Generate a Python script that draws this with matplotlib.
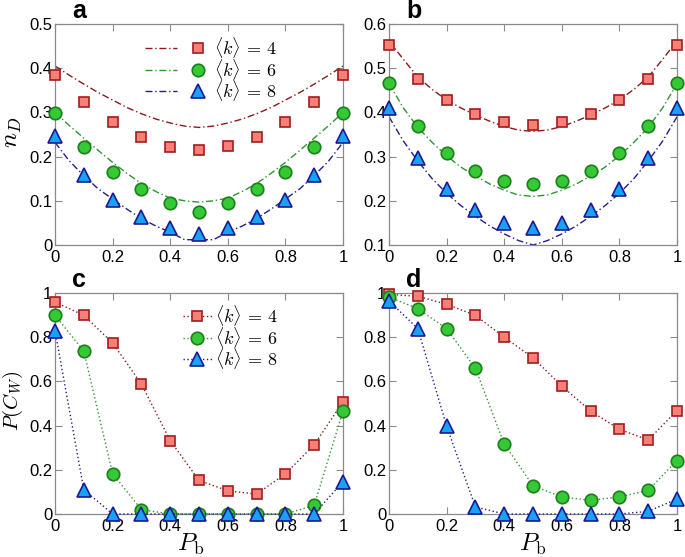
import matplotlib
matplotlib.use("Agg")
import matplotlib.pyplot as plt
from matplotlib.legend_handler import HandlerTuple

plt.rcParams['font.family'] = ['Liberation Sans', 'DejaVu Sans']
plt.rcParams['mathtext.fontset'] = 'cm'

# ---------------- data ----------------
pb = [0.0, 0.1, 0.2, 0.3, 0.4, 0.5, 0.6, 0.7, 0.8, 0.9, 1.0]
labels = [r'$\langle k\rangle\,=\,4$', r'$\langle k\rangle\,=\,6$', r'$\langle k\rangle\,=\,8$']

# panel a: simulation points
a_k4 = [0.385, 0.324, 0.279, 0.245, 0.222, 0.215, 0.224, 0.245, 0.279, 0.324, 0.385]
a_k6 = [0.298, 0.222, 0.166, 0.126, 0.094, 0.075, 0.094, 0.126, 0.166, 0.222, 0.298]
a_k8 = [0.247, 0.158, 0.102, 0.064, 0.039, 0.025, 0.039, 0.064, 0.102, 0.158, 0.247]

# panel a/b: theory curves (read at 0.05 steps)
pb_fine = [0.0, 0.05, 0.1, 0.15, 0.2, 0.25, 0.3, 0.35, 0.4, 0.45, 0.5,
           0.55, 0.6, 0.65, 0.7, 0.75, 0.8, 0.85, 0.9, 0.95, 1.0]
a_th4 = [0.405, 0.384, 0.364, 0.345, 0.328, 0.311, 0.297, 0.285, 0.276, 0.269, 0.266,
         0.269, 0.276, 0.285, 0.297, 0.311, 0.328, 0.345, 0.364, 0.384, 0.405]
a_th6 = [0.300, 0.270, 0.242, 0.214, 0.187, 0.162, 0.139, 0.121, 0.106, 0.100, 0.097,
         0.100, 0.106, 0.121, 0.139, 0.162, 0.187, 0.214, 0.242, 0.270, 0.300]
a_th8 = [0.232, 0.190, 0.157, 0.127, 0.104, 0.081, 0.060, 0.043, 0.029, 0.012, 0.012,
         0.012, 0.029, 0.043, 0.060, 0.081, 0.104, 0.127, 0.157, 0.190, 0.232]

# panel b
b_k4 = [0.552, 0.476, 0.428, 0.396, 0.378, 0.372, 0.378, 0.396, 0.428, 0.476, 0.552]
b_k6 = [0.467, 0.369, 0.309, 0.268, 0.245, 0.237, 0.245, 0.268, 0.309, 0.369, 0.467]
b_k8 = [0.409, 0.296, 0.226, 0.179, 0.149, 0.138, 0.150, 0.179, 0.226, 0.296, 0.409]
b_th4 = [0.562, 0.520, 0.480, 0.452, 0.428, 0.410, 0.394, 0.380, 0.368, 0.360, 0.357,
         0.360, 0.368, 0.380, 0.394, 0.410, 0.428, 0.452, 0.480, 0.520, 0.562]
b_th6 = [0.465, 0.410, 0.366, 0.332, 0.302, 0.276, 0.256, 0.238, 0.224, 0.213, 0.210,
         0.213, 0.224, 0.238, 0.256, 0.276, 0.302, 0.332, 0.366, 0.410, 0.465]
b_th8 = [0.390, 0.335, 0.290, 0.250, 0.217, 0.189, 0.165, 0.143, 0.125, 0.110, 0.100,
         0.110, 0.125, 0.143, 0.165, 0.189, 0.217, 0.250, 0.290, 0.335, 0.390]

# panel c
c_k4 = [0.959, 0.899, 0.774, 0.588, 0.332, 0.152, 0.105, 0.090, 0.182, 0.313, 0.508]
c_k6 = [0.899, 0.737, 0.182, 0.020, 0.0, 0.0, 0.0, 0.0, 0.0, 0.039, 0.466]
c_k8 = [0.830, 0.110, 0.0, 0.0, 0.0, 0.0, 0.0, 0.0, 0.0, 0.0, 0.147]

# panel d
d_k4 = [0.994, 0.985, 0.949, 0.899, 0.800, 0.707, 0.579, 0.466, 0.383, 0.335, 0.468]
d_k6 = [0.982, 0.929, 0.839, 0.659, 0.317, 0.128, 0.077, 0.062, 0.077, 0.107, 0.242]
d_k8 = [0.964, 0.839, 0.398, 0.032, 0.0, 0.0, 0.0, 0.0, 0.0, 0.012, 0.068]

# ---------------- styles ----------------
mk = ['s', 'o', '^']
msz = [7.5, 9.0, 10.0]
face = ['#F77F78', '#35C935', '#18A2F2']
edge = ['#A01E1E', '#1C7F1C', '#1A1A96']
lcol = ['#8B1A1A', '#2E962E', '#1F1F8C']
dashdot = (0, (5, 2, 1, 2))
dotted = (0, (1, 1.8))

W, H = 685, 557
fig = plt.figure(figsize=(W / 100, H / 100), dpi=100)

def pos(l, t, r, b):
    return [l / W, 1 - b / H, (r - l) / W, (b - t) / H]

ax_a = fig.add_axes(pos(55, 24, 343, 245))
ax_b = fig.add_axes(pos(389, 24, 677, 245))
ax_c = fig.add_axes(pos(55, 293, 343, 514))
ax_d = fig.add_axes(pos(389, 293, 677, 514))

def style(ax, ylim, yticks, yticklabels):
    ax.set_xlim(0, 1)
    ax.set_ylim(*ylim)
    ax.set_xticks(pb[::2])
    ax.set_xticklabels(['0', '0.2', '0.4', '0.6', '0.8', '1'])
    ax.set_yticks(yticks)
    ax.set_yticklabels(yticklabels)
    ax.tick_params(direction='in', length=5, width=0.8, color='#8a8a8a',
                   top=True, right=True, labelsize=12, labelcolor='black')
    ax.tick_params(axis='y', pad=2)
    ax.tick_params(axis='x', pad=3.5)
    for s in ax.spines.values():
        s.set_color('#8a8a8a')
        s.set_linewidth(0.9)

def markers(ax, series):
    hs = []
    for i, ys in enumerate(series):
        h, = ax.plot(pb, ys, linestyle='none', marker=mk[i], markersize=msz[i],
                     markerfacecolor=face[i], markeredgecolor=edge[i],
                     markeredgewidth=1.2, clip_on=False, zorder=3)
        hs.append(h)
    return hs

# panel a
ths = []
for i, ys in enumerate([a_th4, a_th6, a_th8]):
    h, = ax_a.plot(pb_fine, ys, color=lcol[i], lw=1.0, linestyle=dashdot, zorder=2)
    ths.append(h)
mks = markers(ax_a, [a_k4, a_k6, a_k8])
style(ax_a, (0, 0.5), [0, 0.1, 0.2, 0.3, 0.4, 0.5], ['0', '0.1', '0.2', '0.3', '0.4', '0.5'])
ax_a.legend([(ths[i], mks[i]) for i in range(3)], labels,
            handler_map={tuple: HandlerTuple(ndivide=None, pad=0.28)},
            loc='center left', bbox_to_anchor=((145 - 55) / 288, (245 - 69) / 221),
            frameon=False, fontsize=13, handlelength=3.82, handletextpad=0.0,
            labelspacing=-0.18, borderpad=0, borderaxespad=0)

# panel b
for i, ys in enumerate([b_th4, b_th6, b_th8]):
    ax_b.plot(pb_fine, ys, color=lcol[i], lw=1.0, linestyle=dashdot, zorder=2)
markers(ax_b, [b_k4, b_k6, b_k8])
style(ax_b, (0.1, 0.6), [0.1, 0.2, 0.3, 0.4, 0.5, 0.6], ['0.1', '0.2', '0.3', '0.4', '0.5', '0.6'])

# panel c / d
def dotted_panel(ax, series):
    hs = []
    for i, ys in enumerate(series):
        h, = ax.plot(pb, ys, color=lcol[i], lw=1.0, linestyle=dotted,
                     marker=mk[i], markersize=msz[i], markerfacecolor=face[i],
                     markeredgecolor=edge[i], markeredgewidth=1.2, clip_on=False, zorder=3)
        hs.append(h)
    return hs

hc = dotted_panel(ax_c, [c_k4, c_k6, c_k8])
style(ax_c, (0, 1), [0, 0.2, 0.4, 0.6, 0.8, 1.0], ['0', '0.2', '0.4', '0.6', '0.8', '1'])
ax_c.legend(hc, labels, loc='center left',
            bbox_to_anchor=((183 - 55) / 288, (514 - 337) / 221),
            frameon=False, fontsize=13, handlelength=1.6, handletextpad=0.17,
            labelspacing=-0.18, borderpad=0, borderaxespad=0)

dotted_panel(ax_d, [d_k4, d_k6, d_k8])
style(ax_d, (0, 1), [0, 0.2, 0.4, 0.6, 0.8, 1.0], ['0', '0.2', '0.4', '0.6', '0.8', '1'])

# labels
ax_a.set_ylabel(r'$n_D$', fontsize=18)
ax_a.yaxis.set_label_coords((24 - 55) / 288, 0.51)
ax_c.set_ylabel(r'$P(\bar{C}_W)$', fontsize=15)
ax_c.yaxis.set_label_coords((25 - 55) / 288, 0.51)
for ax, xc in [(ax_c, 0.47), (ax_d, 0.50)]:
    ax.set_xlabel(r'$P_{\rm b}$', fontsize=18)
    ax.xaxis.set_label_coords(xc, (514 - 532) / 221)

for ax, letter in [(ax_a, 'a'), (ax_b, 'b'), (ax_c, 'c'), (ax_d, 'd')]:
    ax.text(17 / 288, 1 + 6 / 221, letter, transform=ax.transAxes,
            fontsize=18, fontweight='bold', va='baseline', ha='left')

fig.savefig('out.png', dpi=100)
